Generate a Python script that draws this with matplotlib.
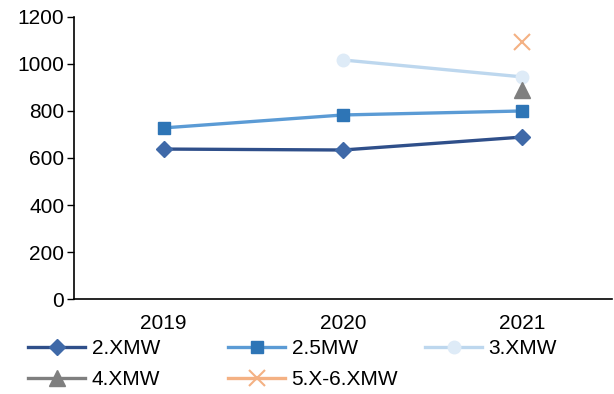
import numpy as np
import matplotlib
matplotlib.use("Agg")
import matplotlib.pyplot as plt

plt.rcParams['font.family'] = ['Liberation Sans', 'DejaVu Sans']

years = ["2019", "2020", "2021"]
mw_2x = [638, 634, 689]
mw_25 = [728, 783, 800]
mw_3x = [np.nan, 1017, 945]
mw_4x = [np.nan, np.nan, 888]
mw_5x6x = [np.nan, np.nan, 1092]
labels = ["2.XMW", "2.5MW", "3.XMW", "4.XMW", "5.X-6.XMW"]

x = np.arange(len(years))

fig = plt.figure(figsize=(6.14, 3.94), dpi=100)
ax = fig.add_axes([0.1205, 0.241, 0.876, 0.716])

# 各机型曲线
h1, = ax.plot(x, mw_2x, color="#2F4F8A", lw=2.4, marker="D", ms=8,
              mfc="#3F69A8", mec="#3F69A8", label=labels[0])
h2, = ax.plot(x, mw_25, color="#5B9BD5", lw=2.4, marker="s", ms=9,
              mfc="#2E75B6", mec="#2E75B6", label=labels[1])
h3, = ax.plot(x, mw_3x, color="#BDD7EE", lw=2.4, marker="o", ms=9,
              mfc="#DEEBF7", mec="#DEEBF7", label=labels[2])
h4, = ax.plot(x, mw_4x, color="#7F7F7F", lw=2.4, marker="^", ms=12,
              mfc="#7F7F7F", mec="#7F7F7F", label=labels[3])
h5, = ax.plot(x, mw_5x6x, color="#F4B183", lw=2.4, marker="x", ms=12,
              mew=1.5, mec="#F4B183", label=labels[4])

ax.set_xlim(-0.5, 2.5)
ax.set_ylim(0, 1200)
ax.set_yticks(np.arange(0, 1201, 200))
ax.set_xticks(x)
ax.set_xticklabels(years)
ax.tick_params(axis="x", length=0, labelsize=15, pad=11)
ax.tick_params(axis="y", length=5, width=1, labelsize=15, pad=2)
for s in ["top", "right"]:
    ax.spines[s].set_visible(False)
ax.spines["left"].set_linewidth(1.2)
ax.spines["bottom"].set_linewidth(1.2)

# 图例分三列手动摆放
cols = [([h1, h4], 28), ([h2, h5], 228), ([h3], 425)]
for hs, px in cols:
    lg = fig.legend(handles=hs, loc="upper left",
                    bbox_to_anchor=(px / 614, 1 - 339 / 394),
                    frameon=False, fontsize=15, handlelength=2.75,
                    handletextpad=0.3, labelspacing=0.58,
                    borderpad=0, borderaxespad=0)

fig.savefig("out.png", dpi=100)
